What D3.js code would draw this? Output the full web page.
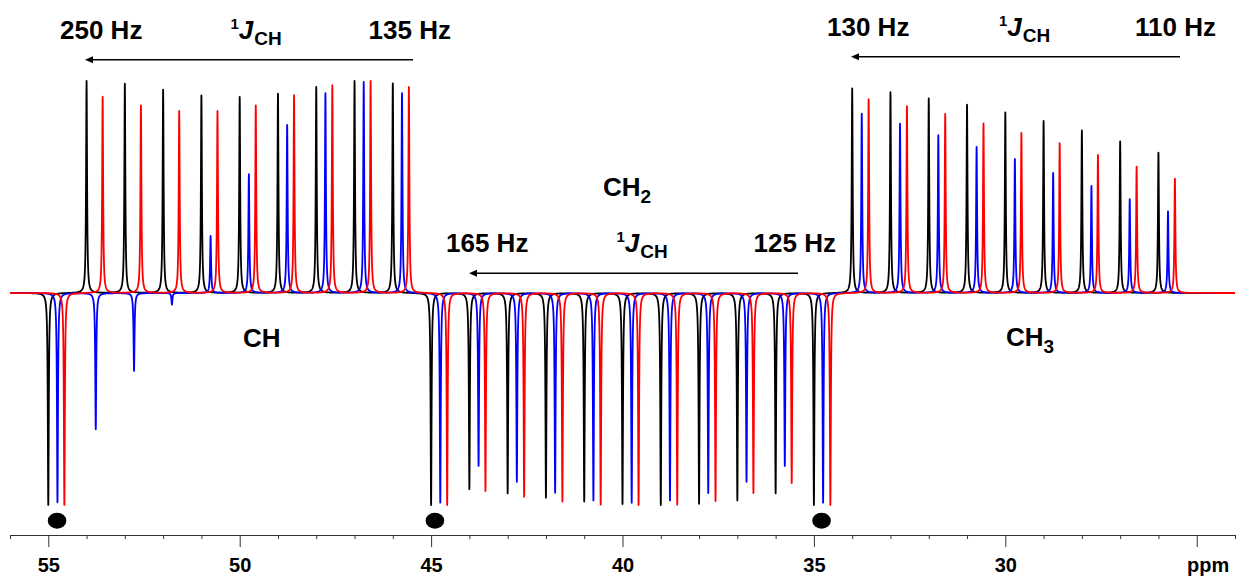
<!DOCTYPE html>
<html>
<head>
<meta charset="utf-8">
<script src="https://cdnjs.cloudflare.com/ajax/libs/d3/7.8.5/d3.min.js"></script>
<style>
  body { margin: 0; background: #fff; }
  svg { display: block; font-family: 'Liberation Sans', Arial, sans-serif; font-weight: bold; }
</style>
</head>
<body>
<svg id="chart" width="1237" height="577"></svg>
<script>
const blackPpm = [55, 54, 53, 52, 51, 50, 49, 48, 47, 46, 45, 44, 43, 42, 41, 40, 39, 38, 37, 36, 35, 34, 33, 32, 31, 30, 29, 28, 27, 26]
const blackInt = [-1.0, 1.0, 0.987, 0.959, 0.932, 0.925, 0.94, 0.972, 1.0, 0.989,
  -1.0, -0.925, -0.945, -0.965, -0.983, -0.995, -1.0, -0.994, -0.978, -0.945, -1.0,
  0.965, 0.947, 0.918, 0.888, 0.852, 0.811, 0.767, 0.715, 0.662]

const bluePpm = [54.76, 53.76, 52.76, 51.77, 50.76, 49.76, 48.76, 47.76, 46.76, 45.76, 44.76, 43.76, 42.76, 41.76, 40.76, 39.76, 38.76, 37.76, 36.76, 35.76, 34.76, 33.75, 32.75, 31.75, 30.75, 29.75, 28.75, 27.75, 26.75, 25.75]
const blueInt = [-0.987, -0.642, -0.367, -0.055, 0.269, 0.56, 0.792, 0.942, 0.995, 0.943,
  -0.989, -0.815, -0.89, -0.942, -0.978, -0.989, -0.978, -0.943, -0.89, -0.815, -0.989,
  0.846, 0.799, 0.744, 0.689, 0.632, 0.566, 0.505, 0.443, 0.385]

const redPpm = [54.58, 53.58, 52.58, 51.58, 50.58, 49.58, 48.58, 47.58, 46.58, 45.58, 44.58, 43.58, 42.57, 41.57, 40.57, 39.58, 38.57, 37.57, 36.58, 35.58, 34.57, 33.57, 32.57, 31.57, 30.57, 29.58, 28.58, 27.58, 26.57, 25.57]
const redInt = [-1.0, 0.926, 0.885, 0.858, 0.858, 0.885, 0.933, 0.98, 1.0, 0.972,
  -1.0, -0.934, -0.961, -0.983, -0.998, -1.0, -0.998, -0.981, -0.943, -0.896, -1.0,
  0.914, 0.881, 0.844, 0.8, 0.755, 0.706, 0.651, 0.596, 0.539]

const dotPpm = [54.77, 44.9, 34.8]
const majorTicks = [55, 50, 45, 40, 35, 30, 25]
const minorTicks = d3.range(24, 57)

const halfWidth = 0.015
const step = 0.002

const svg = d3.select('#chart')

const xScale = d3.scaleLinear().domain([56, 24]).range([10, 1235])
const yScale = d3.scaleLinear().domain([-1, 1]).range([505, 81])
const axisY = 535

const traces = [
  { ppm: blackPpm, amp: blackInt, color: '#000000' },
  { ppm: bluePpm, amp: blueInt, color: '#0000ff' },
  { ppm: redPpm, amp: redInt, color: '#ff0000' }
]

const grid = d3.range(24, 56 + step / 2, step)

function spectrum(t) {
  return grid.map(x => {
    let y = 0
    t.ppm.forEach((p, i) => {
      const d = x - p
      if (Math.abs(d) < 1.5) y += t.amp[i] * halfWidth * halfWidth / (d * d + halfWidth * halfWidth)
    })
    return [x, y]
  })
}

const line = d3.line()
  .x(d => xScale(d[0]))
  .y(d => yScale(d[1]))

svg.selectAll('.trace')
  .data(traces)
  .enter()
  .append('path')
  .attr('class', 'trace')
  .attr('d', d => line(spectrum(d)))
  .attr('fill', 'none')
  .attr('stroke', d => d.color)
  .attr('stroke-width', 1.8)
  .attr('stroke-linejoin', 'round')

svg.selectAll('.dot')
  .data(dotPpm)
  .enter()
  .append('ellipse')
  .attr('class', 'dot')
  .attr('cx', d => xScale(d))
  .attr('cy', 520.7)
  .attr('rx', 9.3)
  .attr('ry', 8)
  .attr('fill', '#000')

// axis
const minorAxis = d3.axisBottom(xScale)
  .tickValues(minorTicks.filter(v => majorTicks.indexOf(v) < 0))
  .tickSize(4)
  .tickSizeOuter(0)
  .tickFormat('')

const majorAxis = d3.axisBottom(xScale)
  .tickValues(majorTicks)
  .tickSize(12)
  .tickSizeOuter(0)
  .tickFormat(d => d === 25 ? '' : d)

svg.append('g')
  .attr('transform', 'translate(0,' + axisY + ')')
  .call(minorAxis)
  .call(g => g.selectAll('line').attr('stroke', '#333'))
  .call(g => g.select('.domain').attr('stroke', '#333').attr('stroke-width', 1.2))

svg.append('g')
  .attr('transform', 'translate(0,' + axisY + ')')
  .call(majorAxis)
  .call(g => g.select('.domain').remove())
  .call(g => g.selectAll('line').attr('stroke', '#333'))
  .call(g => g.selectAll('text')
    .attr('y', 22.5)
    .attr('fill', '#000')
    .style('font-size', '20px')
    .style('font-weight', 'bold')
    .style('font-family', "'Liberation Sans', Arial, sans-serif"))

svg.append('text')
  .attr('x', 1187)
  .attr('y', 572)
  .style('font-size', '20px')
  .text('ppm')

// annotations
function hzLabel(x, y, txt, anchor) {
  svg.append('text')
    .attr('x', x)
    .attr('y', y)
    .attr('text-anchor', anchor)
    .style('font-size', '26px')
    .text(txt)
}

function jLabel(x, y) {
  const t = svg.append('text')
    .attr('x', x)
    .attr('y', y)
  t.append('tspan').attr('dy', -10).style('font-size', '15px').text('1')
  t.append('tspan').attr('dy', 10).style('font-size', '26px').style('font-style', 'italic').text('J')
  t.append('tspan').attr('dy', 6).attr('dx', 1).style('font-size', '19px').text('CH')
}

function arrow(x1, x2, y) {
  svg.append('line')
    .attr('x1', x1)
    .attr('x2', x2 + 6)
    .attr('y1', y)
    .attr('y2', y)
    .attr('stroke', '#000')
    .attr('stroke-width', 1.6)
  svg.append('path')
    .attr('d', 'M' + x2 + ',' + y + 'L' + (x2 + 8) + ',' + (y - 3.5) + 'L' + (x2 + 8) + ',' + (y + 3.5) + 'Z')
    .attr('fill', '#000')
}

function groupLabel(x, y, main, sub) {
  const t = svg.append('text')
    .attr('x', x)
    .attr('y', y)
    .style('font-size', '26px')
  t.append('tspan').text(main)
  if (sub) t.append('tspan').attr('dy', 7).style('font-size', '19px').text(sub)
}

hzLabel(60, 39, '250 Hz', 'start')
hzLabel(451, 39, '135 Hz', 'end')
jLabel(230.5, 39)
arrow(413, 85, 59.7)

hzLabel(827, 36, '130 Hz', 'start')
hzLabel(1216, 36, '110 Hz', 'end')
jLabel(999, 36)
arrow(1180, 851, 56.7)

groupLabel(603, 196, 'CH', '2')
hzLabel(446, 252, '165 Hz', 'start')
hzLabel(836, 252, '125 Hz', 'end')
jLabel(616.5, 252)
arrow(798, 469, 273.3)

groupLabel(243, 347, 'CH')
groupLabel(1006, 346, 'CH', '3')
</script>
</body>
</html>
